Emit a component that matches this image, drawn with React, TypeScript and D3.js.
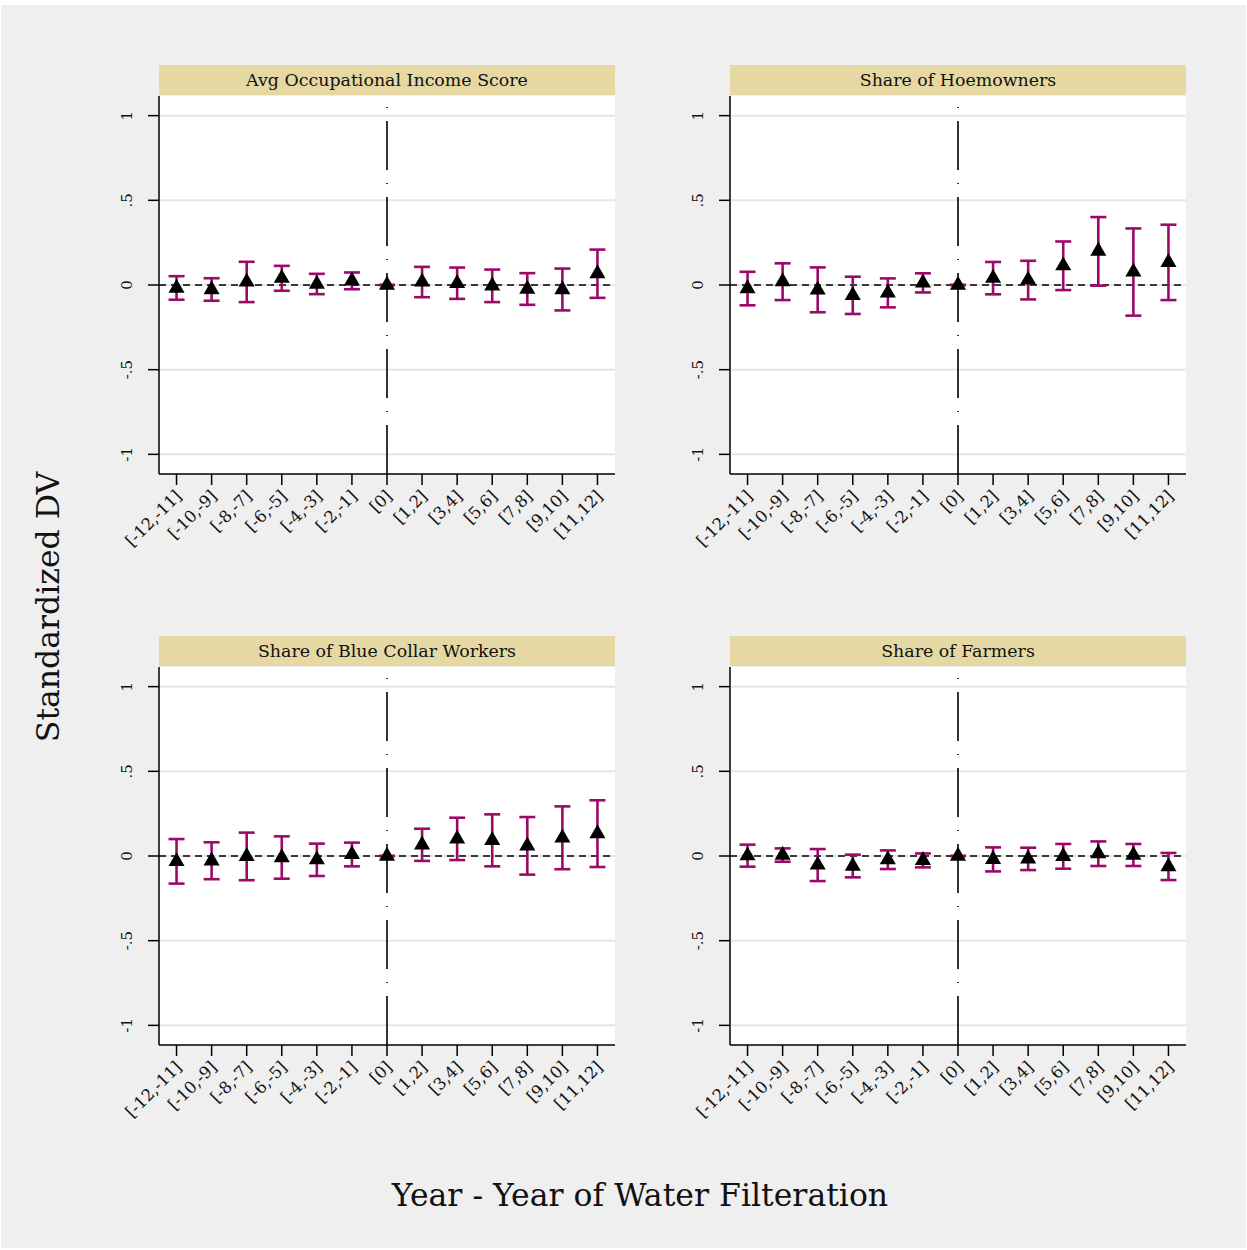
import { useLayoutEffect } from 'react'
import * as d3 from 'd3'

const W = 1247
const H = 1250

const categories = ['[-12,-11]', '[-10,-9]', '[-8,-7]', '[-6,-5]', '[-4,-3]', '[-2,-1]', '[0]', '[1,2]', '[3,4]', '[5,6]', '[7,8]', '[9,10]', '[11,12]']
const yTicks = [-1, -0.5, 0, 0.5, 1]
const yTickLabels = ['-1', '-.5', '0', '.5', '1']

const panelTitles = ['Avg Occupational Income Score', 'Share of Hoemowners', 'Share of Blue Collar Workers', 'Share of Farmers']

const incomeEst = [-0.018, -0.027, 0.018, 0.04, 0.006, 0.025, 0, 0.018, 0.01, -0.005, -0.024, -0.027, 0.067]
const incomeLo = [-0.087, -0.093, -0.101, -0.034, -0.054, -0.025, 0, -0.072, -0.082, -0.101, -0.117, -0.15, -0.076]
const incomeHi = [0.052, 0.04, 0.137, 0.113, 0.066, 0.074, 0, 0.107, 0.103, 0.091, 0.07, 0.097, 0.209]

const homeEst = [-0.021, 0.02, -0.029, -0.061, -0.047, 0.012, 0, 0.04, 0.03, 0.114, 0.2, 0.077, 0.134]
const homeLo = [-0.12, -0.089, -0.161, -0.171, -0.132, -0.044, 0, -0.055, -0.085, -0.03, -0.004, -0.181, -0.089]
const homeHi = [0.078, 0.128, 0.104, 0.049, 0.039, 0.069, 0, 0.136, 0.143, 0.257, 0.401, 0.334, 0.356]

const blueEst = [-0.032, -0.028, -0.002, -0.009, -0.022, 0.009, 0, 0.066, 0.101, 0.093, 0.06, 0.107, 0.132]
const blueLo = [-0.163, -0.137, -0.143, -0.134, -0.118, -0.061, 0, -0.029, -0.024, -0.061, -0.11, -0.078, -0.065]
const blueHi = [0.1, 0.081, 0.138, 0.116, 0.073, 0.079, 0, 0.161, 0.226, 0.246, 0.23, 0.293, 0.329]

const farmEst = [0.002, 0.006, -0.053, -0.059, -0.022, -0.026, 0, -0.02, -0.017, -0.002, 0.014, 0.006, -0.062]
const farmLo = [-0.063, -0.034, -0.148, -0.126, -0.077, -0.067, 0, -0.091, -0.083, -0.075, -0.059, -0.059, -0.142]
const farmHi = [0.067, 0.045, 0.041, 0.008, 0.033, 0.015, 0, 0.051, 0.049, 0.071, 0.086, 0.071, 0.018]

const panels = [
  { title: panelTitles[0], est: incomeEst, lo: incomeLo, hi: incomeHi, x: 159, y: 65 },
  { title: panelTitles[1], est: homeEst, lo: homeLo, hi: homeHi, x: 730, y: 65 },
  { title: panelTitles[2], est: blueEst, lo: blueLo, hi: blueHi, x: 159, y: 636 },
  { title: panelTitles[3], est: farmEst, lo: farmLo, hi: farmHi, x: 730, y: 636 },
]

const FONT = '"DejaVu Serif", "Liberation Serif", serif'
const PW = 456
const PH = 378
const TH = 31
const CI = '#9b0a68'

function Panel({ p }: { p: typeof panels[number] }) {
  const x = d3.scalePoint<string>().domain(categories).range([0, PW]).padding(0.5)
  const y = d3.scaleLinear().domain([-1.116, 1.116]).range([PH, 0])
  const tri = d3.symbol().type(d3.symbolTriangle).size(112)()
  const x0 = x('[0]') as number
  return (
    <g transform={`translate(${p.x},${p.y})`}>
      <rect x={0} y={0} width={PW} height={TH - 1} fill="#e5d8a3" />
      <text x={PW / 2} y={20.5} textAnchor="middle" fontSize={17.4} fill="#111">{p.title}</text>
      <g transform={`translate(0,${TH})`}>
        <rect x={0} y={0} width={PW} height={PH} fill="#fff" />
        {yTicks.map(t => (
          <line key={t} x1={0} x2={PW} y1={y(t)} y2={y(t)} stroke="#e6e6e6" strokeWidth={2} />
        ))}
        <line x1={0} x2={PW} y1={y(0)} y2={y(0)} stroke="#000" strokeWidth={1.6} strokeDasharray="7 5" />
        <line x1={x0} x2={x0} y1={PH} y2={0} stroke="#000" strokeWidth={1.6} strokeDasharray="49 13 1 13" />
        {categories.map((c, i) => {
          const cx = x(c) as number
          return (
            <g key={c}>
              <line x1={cx} x2={cx} y1={y(p.lo[i])} y2={y(p.hi[i])} stroke={CI} strokeWidth={2.6} />
              <line x1={cx - 8} x2={cx + 8} y1={y(p.lo[i])} y2={y(p.lo[i])} stroke={CI} strokeWidth={2.6} />
              <line x1={cx - 8} x2={cx + 8} y1={y(p.hi[i])} y2={y(p.hi[i])} stroke={CI} strokeWidth={2.6} />
              <path d={tri as string} transform={`translate(${cx},${y(p.est[i])})`} fill="#000" />
            </g>
          )
        })}
        <line x1={0} x2={0} y1={0} y2={PH} stroke="#000" strokeWidth={1.5} />
        <line x1={0} x2={PW} y1={PH} y2={PH} stroke="#000" strokeWidth={1.5} />
        {yTicks.map((t, i) => (
          <g key={t} transform={`translate(0,${y(t)})`}>
            <line x1={-11} x2={0} y1={0} y2={0} stroke="#000" strokeWidth={1.5} />
            <text transform="translate(-27,0) rotate(-90)" textAnchor="middle" fontSize={15} fill="#111">{yTickLabels[i]}</text>
          </g>
        ))}
        {categories.map(c => (
          <g key={c} transform={`translate(${x(c)},${PH})`}>
            <line x1={0} x2={0} y1={0} y2={11} stroke="#000" strokeWidth={1.5} />
            <text transform="translate(2,19) rotate(-45)" textAnchor="end" dy="0.35em" fontSize={16.5} fill="#111">{c}</text>
          </g>
        ))}
      </g>
    </g>
  )
}

export default function App() {
  useLayoutEffect(() => {
    document.body.style.margin = '0'
  }, [])
  return (
    <svg width={W} height={H} fontFamily={FONT} style={{ display: 'block' }}>
      <rect x={0} y={0} width={W} height={H} fill="#fff" />
      <rect x={1} y={5} width={W - 2} height={H - 7} fill="#efefef" />
      {panels.map(p => <Panel key={p.title} p={p} />)}
      <text transform="translate(59,607) rotate(-90)" textAnchor="middle" fontSize={31.5} fill="#111">Standardized DV</text>
      <text x={640} y={1206} textAnchor="middle" fontSize={31.5} fill="#111">Year - Year of Water Filteration</text>
    </svg>
  )
}
